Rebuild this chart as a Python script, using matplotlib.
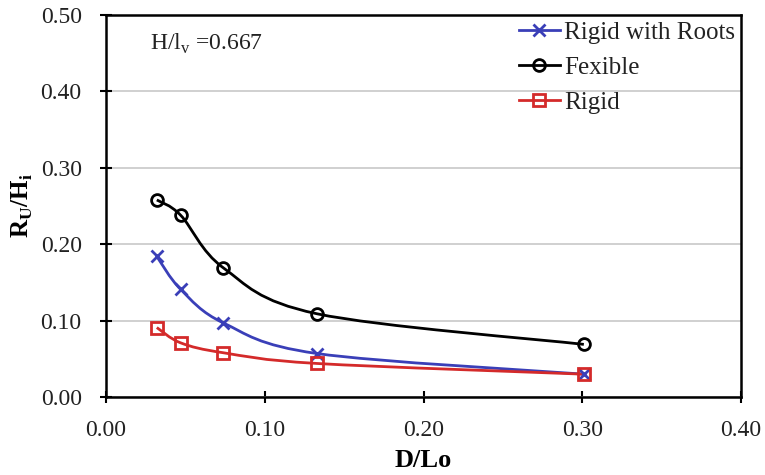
import numpy as np
import matplotlib.pyplot as plt
from matplotlib.path import Path
from matplotlib.patches import PathPatch

plt.rcParams["font.family"] = "Liberation Serif"
plt.rcParams["mathtext.fontset"] = "custom"
plt.rcParams["mathtext.rm"] = "Liberation Serif"

d_lo = [0.032, 0.047, 0.074, 0.133, 0.301]
rigid_roots = [0.184, 0.141, 0.097, 0.057, 0.030]
flexible = [0.258, 0.238, 0.169, 0.109, 0.069]
rigid = [0.091, 0.071, 0.058, 0.044, 0.030]

series = [
    ("Rigid with Roots", rigid_roots, "#3a3fb8", "x", 9),
    ("Fexible", flexible, "black", "o", 8.5),
    ("Rigid", rigid, "#d42a2a", "s", 8),
]


def smooth_path(x, y):
    # excel style smoothed line as cubic bezier segments
    p = np.column_stack([x, y])
    p = np.vstack([p[0], p, p[-1]])
    verts = [p[1]]
    codes = [Path.MOVETO]
    for i in range(1, len(p) - 2):
        c1 = p[i] + (p[i + 1] - p[i - 1]) / 6
        c2 = p[i + 1] - (p[i + 2] - p[i]) / 6
        verts += [c1, c2, p[i + 1]]
        codes += [Path.CURVE4] * 3
    return Path(verts, codes)


fig = plt.figure(figsize=(7.65, 4.75), dpi=100)
ax = fig.add_axes([0.1386, 0.164, 0.83, 0.8044])

for label, vals, col, mk, ms in series:
    ax.add_patch(PathPatch(smooth_path(d_lo, vals), fill=False,
                           edgecolor=col, lw=2, zorder=3))
    ax.plot(d_lo, vals, ls="none", marker=mk, ms=ms, mfc="none",
            mec=col, mew=2, zorder=4)
    ax.plot([], [], color=col, lw=2, marker=mk, ms=ms, mfc="none",
            mec=col, mew=2, label=label)

xt = np.arange(0, 0.41, 0.10)
yt = np.arange(0, 0.51, 0.10)
ax.set_xlim(0, 0.40)
ax.set_ylim(0, 0.50)
ax.set_xticks(xt)
ax.set_yticks(yt)
ax.set_xticklabels([f"{v:.2f}" for v in xt])
ax.set_yticklabels([f"{v:.2f}" for v in yt])
ax.tick_params(direction="inout", length=9, width=1.5, labelsize=17,
               labelcolor="#222222")
ax.tick_params(axis="x", pad=12)
ax.tick_params(axis="y", pad=13)
ax.grid(axis="y", color="#c8c8c8", lw=1.2)
ax.set_axisbelow(True)
for sp in ax.spines.values():
    sp.set_linewidth(1.8)

ax.set_xlabel("D/Lo", fontsize=19, fontweight="bold", labelpad=6)
ax.set_ylabel(r"R$_\mathregular{U}$/H$_\mathregular{i}$", fontsize=18,
              fontweight="bold", labelpad=4)

ax.text(0.028, 0.455, r"H/l$_\mathregular{v}$ =0.667", fontsize=17,
        color="#222222")

ax.legend(loc="upper right", frameon=False, fontsize=18, handlelength=1.65,
          handletextpad=0.15, borderaxespad=0.1, borderpad=0.15,
          labelspacing=0.5, labelcolor="#222222")

fig.savefig("out.png", dpi=100)
